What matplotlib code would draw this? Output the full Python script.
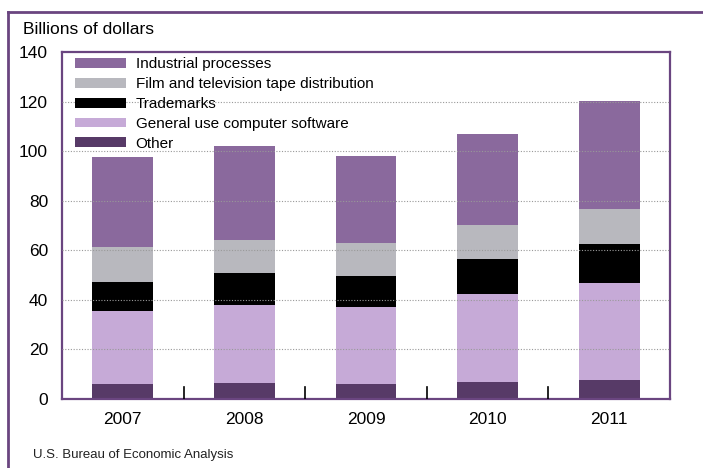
import numpy as np
import matplotlib.pyplot as plt
from matplotlib.patches import Patch

plt.rcParams['font.family'] = ['Liberation Sans', 'DejaVu Sans']

# Data (billions of dollars)
years = ['2007', '2008', '2009', '2010', '2011']
other = [6.1, 6.6, 6.1, 7.0, 7.6]
software = [29.5, 31.3, 31.1, 35.4, 39.2]
trademarks = [11.6, 13.0, 12.4, 14.1, 15.6]
film_tv = [14.0, 13.2, 13.3, 13.5, 14.3]
industrial = [36.6, 37.8, 35.0, 36.8, 43.7]

series = [
    ("Other", other, "#573a67"),
    ("General use computer software", software, "#c6aad7"),
    ("Trademarks", trademarks, "#000000"),
    ("Film and television tape distribution", film_tv, "#b8b8be"),
    ("Industrial processes", industrial, "#8a699d"),
]

frame_col = "#6a4580"

fig = plt.figure(figsize=(7.03, 4.68), dpi=100)
ax = fig.add_axes([62 / 703, 1 - 399 / 468, 608 / 703, 347 / 468])

x = np.arange(len(years))
bottom = np.zeros(len(years))
for name, vals, col in series:
    ax.bar(x, vals, width=0.5, bottom=bottom, color=col, zorder=2)
    bottom += np.array(vals)

# dotted grid sits on top of the bars in the original
for yv in range(20, 140, 20):
    ax.axhline(yv, color="#999999", lw=0.8, ls=(0, (1, 1.5)), zorder=3)

ax.set_xlim(-0.5, len(years) - 0.5)
ax.set_ylim(0, 140)
ax.set_yticks(range(0, 141, 20))
ax.tick_params(axis='y', length=0, labelsize=12.5, pad=10)
ax.set_xticks(x)
ax.set_xticklabels(years)
ax.tick_params(axis='x', length=0, labelsize=12.5, pad=9)

# small separator ticks between years
for xs in x[:-1] + 0.5:
    ax.plot([xs, xs], [0, 5], color="black", lw=1.2, zorder=4)

for sp in ax.spines.values():
    sp.set_color(frame_col)
    sp.set_linewidth(1.6)

handles = [Patch(facecolor=c, label=n) for n, v, c in series[::-1]]
leg = ax.legend(handles=handles, loc='upper left', bbox_to_anchor=(0.003, 1.015),
                frameon=False, fontsize=11, handlelength=3.4, handleheight=0.6,
                handletextpad=0.6, labelspacing=0.38, borderaxespad=0.3)

fig.text(23 / 703, 1 - 30 / 468, "Billions of dollars", fontsize=12.5, va='center')
fig.text(33 / 703, 1 - 455 / 468, "U.S. Bureau of Economic Analysis", fontsize=9.5,
         va='center', color="#222222")

# outer frame of the original graphic
fig.add_artist(plt.Line2D([8 / 703, 8 / 703], [0, 1 - 12 / 468], color=frame_col, lw=2))
fig.add_artist(plt.Line2D([8 / 703, 1], [1 - 12 / 468, 1 - 12 / 468], color=frame_col, lw=2))

fig.savefig("out.png", dpi=100)
